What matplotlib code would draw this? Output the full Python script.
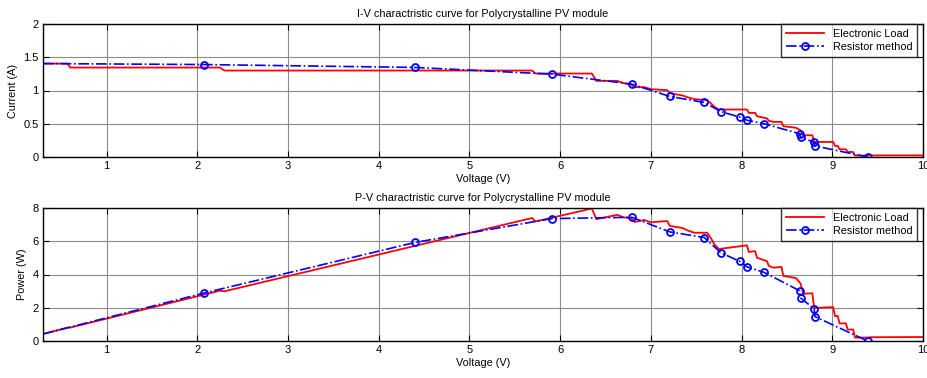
import matplotlib
matplotlib.use("Agg")
import matplotlib.pyplot as plt
import numpy as np

plt.rcParams['font.family'] = ['Liberation Sans', 'DejaVu Sans']

# Electronic Load (voltage V, current A)
el_v = [0.30, 0.57, 0.60, 2.25, 2.30, 5.69, 5.73, 6.35, 6.40, 6.63, 6.70, 6.78,
        6.82, 6.93, 7.00, 7.18, 7.21, 7.35, 7.40, 7.48, 7.62, 7.66, 7.70, 7.75,
        8.06, 8.08, 8.15, 8.17, 8.28, 8.30, 8.35, 8.44, 8.46, 8.60, 8.65, 8.68,
        8.78, 8.80, 9.01, 9.03, 9.06, 9.08, 9.15, 9.17, 9.23, 9.25, 9.39, 9.41, 10.0]
el_i = [1.405, 1.405, 1.345, 1.345, 1.300, 1.300, 1.255, 1.255, 1.145, 1.145, 1.110, 1.090,
        1.050, 1.050, 1.020, 1.005, 0.960, 0.925, 0.900, 0.870, 0.855, 0.810, 0.755, 0.714,
        0.714, 0.663, 0.663, 0.613, 0.580, 0.545, 0.528, 0.528, 0.463, 0.440, 0.400, 0.327,
        0.327, 0.226, 0.226, 0.166, 0.166, 0.116, 0.116, 0.075, 0.075, 0.022, 0.022, 0.024, 0.024]

# Resistor method (voltage V, current A)
rm_v = [0.30, 2.08, 4.40, 5.91, 6.79, 7.21, 7.59, 7.77, 7.98, 8.06, 8.25,
        8.64, 8.65, 8.80, 8.81, 9.39]
rm_i = [1.405, 1.390, 1.347, 1.246, 1.096, 0.910, 0.820, 0.684, 0.600, 0.553, 0.500,
        0.350, 0.300, 0.220, 0.166, 0.000]

el_v = np.array(el_v); el_i = np.array(el_i)
rm_v = np.array(rm_v); rm_i = np.array(rm_i)
el_p = el_v * el_i
rm_p = rm_v * rm_i

xticks = [1, 2, 3, 4, 5, 6, 7, 8, 9, 10]

FS = 7.8
TFS = 8

fig = plt.figure(figsize=(9.27, 3.78), dpi=100)
ax1 = fig.add_axes([43/927, 1-157/378, 880/927, 133/378])
ax2 = fig.add_axes([43/927, 1-341/378, 880/927, 133/378])

def style(ax):
    ax.set_xlim(0.3, 10)
    ax.set_xticks(xticks)
    ax.grid(True, color='0.55', linewidth=0.8, linestyle='-')
    ax.set_axisbelow(True)
    ax.tick_params(direction='in', top=True, right=True, length=4, labelsize=TFS,
                   width=0.8, pad=3)
    for s in ax.spines.values():
        s.set_linewidth(1.0)
        s.set_color('black')

def legend(ax):
    leg = ax.legend(loc='upper right', bbox_to_anchor=(0.9935, 1.0), fontsize=FS,
                    frameon=True, fancybox=False, edgecolor='black', borderaxespad=0,
                    handlelength=3.5, borderpad=0.45, labelspacing=0.3)
    leg.get_frame().set_linewidth(1.0)

# I-V
ax1.plot(el_v, el_i, color='red', linewidth=1.3, label='Electronic Load')
ax1.plot(rm_v, rm_i, color='blue', linestyle='-.', linewidth=1.2, marker='o',
         markersize=5, markerfacecolor='none', markeredgewidth=1.3,
         markevery=list(range(1, len(rm_v))), label='Resistor method')
style(ax1)
ax1.set_ylim(0, 2)
ax1.set_yticks([0, 0.5, 1, 1.5, 2])
ax1.set_yticklabels(['0', '0.5', '1', '1.5', '2'])
ax1.set_title('I-V charactristic curve for Polycrystalline PV module', fontsize=FS, pad=5)
ax1.set_xlabel('Voltage (V)', fontsize=FS, labelpad=2)
ax1.set_ylabel('Current (A)', fontsize=FS, labelpad=4)
legend(ax1)

# P-V
ax2.plot(el_v, el_p, color='red', linewidth=1.3, label='Electronic Load')
ax2.plot(rm_v, rm_p, color='blue', linestyle='-.', linewidth=1.2, marker='o',
         markersize=5, markerfacecolor='none', markeredgewidth=1.3,
         markevery=list(range(1, len(rm_v))), label='Resistor method')
style(ax2)
ax2.set_ylim(0, 8)
ax2.set_yticks([0, 2, 4, 6, 8])
ax2.set_title('P-V charactristic curve for Polycrystalline PV module', fontsize=FS, pad=5)
ax2.set_xlabel('Voltage (V)', fontsize=FS, labelpad=2)
ax2.set_ylabel('Power (W)', fontsize=FS, labelpad=4)
legend(ax2)

fig.savefig('out.png', dpi=100)
